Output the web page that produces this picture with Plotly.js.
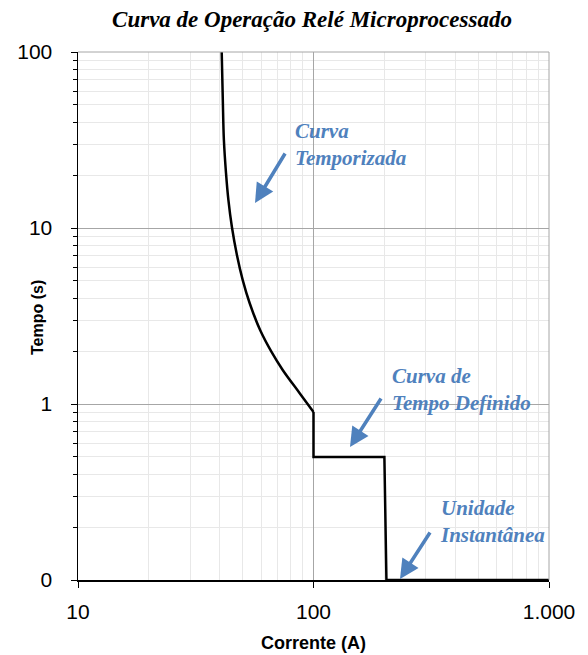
<!DOCTYPE html>
<html>
<head>
<meta charset="utf-8">
<script src="https://cdn.plot.ly/plotly-3.0.1.min.js"></script>
<style>html,body{margin:0;padding:0;background:#fff;}#chart{width:588px;height:655px;}</style>
</head>
<body>
<div id="chart"></div>
<script>
// Inverse-time part (Curva Temporizada)
const curveCurrent = [40.76, 41.2, 41.64, 42.51, 43.51, 45.03, 47.29, 50.06, 53.55, 59.33, 66.33, 74.0, 87.2, 100];
const curveTime    = [100, 53.4, 31.6, 20.5, 14.43, 10.13, 7.03, 5.06, 3.75, 2.63, 1.975, 1.56, 1.155, 0.9];
// Definite-time and instantaneous parts
const stepCurrent = [100, 100, 200, 204, 1000];
const stepTime    = [0.9, 0.5, 0.5, 0.1, 0.1];

const xTickVals = [10, 100, 1000];
const xTickText = ['10', '100', '1.000'];
const yTickVals = [0.1, 1, 10, 100];
const yTickText = ['0', '1', '10', '100'];

const blue = '#4F81BD';
const serif = 'Liberation Serif, Times New Roman, serif';
const sans = 'Liberation Sans, Arial, sans-serif';
const annFont = {family: serif, size: 21, color: blue};

const traces = [
  {x: curveCurrent, y: curveTime, mode: 'lines', line: {color: '#000', width: 2.5, shape: 'spline', smoothing: 1}, hoverinfo: 'skip'},
  {x: stepCurrent, y: stepTime, mode: 'lines', line: {color: '#000', width: 2.5}, hoverinfo: 'skip'}
];

const W = 471, H = 528, L = 78, T = 52;
function px2paperX(p) { return (p - L) / W; }
function px2paperY(p) { return 1 - (p - T) / H; }
function label(text, px, py) {
  return {xref: 'paper', yref: 'paper', x: px2paperX(px), y: px2paperY(py), xanchor: 'left', yanchor: 'top',
          text: '<b><i>' + text + '</i></b>', showarrow: false, font: annFont, align: 'left'};
}
// arrow head at pixel (hx,hy), tail at pixel (tx,ty)
function arrow(hx, hy, tx, ty) {
  return {xref: 'paper', yref: 'paper', x: px2paperX(hx), y: px2paperY(hy), ax: tx - hx, ay: ty - hy,
          text: '', showarrow: true, arrowcolor: blue, arrowwidth: 3.5, arrowhead: 2, arrowsize: 1.1, standoff: 0};
}

const layout = {
  width: 588, height: 655,
  margin: {l: 78, r: 39, t: 52, b: 75},
  paper_bgcolor: '#fff', plot_bgcolor: '#fff',
  showlegend: false,
  title: {text: '<b><i>Curva de Operação Relé Microprocessado</i></b>',
          font: {family: serif, size: 23, color: '#000'},
          x: 312 / 588, xanchor: 'center', y: 1 - 19 / 655, yanchor: 'middle'},
  xaxis: {
    type: 'log', range: [1, 3], tickmode: 'array', tickvals: xTickVals, ticktext: xTickText,
    ticks: 'outside', ticklen: 6, tickcolor: '#000', showline: true, linecolor: '#000', linewidth: 1.5,
    showgrid: true, gridcolor: '#a6a6a6', gridwidth: 1, zeroline: false,
    minor: {dtick: 'D1', showgrid: true, gridcolor: '#e8e8e8', gridwidth: 1, ticks: ''},
    tickfont: {family: sans, size: 21, color: '#000'},
    ticklabelstandoff: 6,
    title: {text: '<b>Corrente (A)</b>', font: {family: sans, size: 18, color: '#000'}, standoff: 14}
  },
  yaxis: {
    type: 'log', range: [-1, 2], tickmode: 'array', tickvals: yTickVals, ticktext: yTickText,
    ticks: 'outside', ticklen: 6, tickcolor: '#000', showline: true, linecolor: '#000', linewidth: 1.5,
    showgrid: true, gridcolor: '#a6a6a6', gridwidth: 1, zeroline: false,
    minor: {dtick: 'D1', showgrid: true, gridcolor: '#e8e8e8', gridwidth: 1, ticks: 'outside', ticklen: 4, tickcolor: '#000'},
    tickfont: {family: sans, size: 21, color: '#000'},
    ticklabelstandoff: 14,
    title: {text: ''}
  },
  shapes: [
    {type: 'line', xref: 'paper', yref: 'paper', x0: 1, x1: 1, y0: 0, y1: 1, line: {color: '#a6a6a6', width: 1}},
    {type: 'line', xref: 'paper', yref: 'paper', x0: 0, x1: 1, y0: 1, y1: 1, line: {color: '#a6a6a6', width: 1}}
  ],
  annotations: [
    {xref: 'paper', yref: 'paper', x: px2paperX(37), y: px2paperY(318), xanchor: 'center', yanchor: 'middle',
     text: '<b>Tempo (s)</b>', textangle: -90, showarrow: false, font: {family: sans, size: 16, color: '#000'}},
    label('Curva<br>Temporizada', 293, 117),
    label('Curva de<br>Tempo Definido', 390, 362),
    label('Unidade<br>Instantânea', 438, 494),
    arrow(255, 203, 286, 152),
    arrow(350, 447, 382, 397),
    arrow(400, 579, 431, 531)
  ]
};

Plotly.newPlot('chart', traces, layout, {displayModeBar: false, staticPlot: true});
</script>
</body>
</html>
